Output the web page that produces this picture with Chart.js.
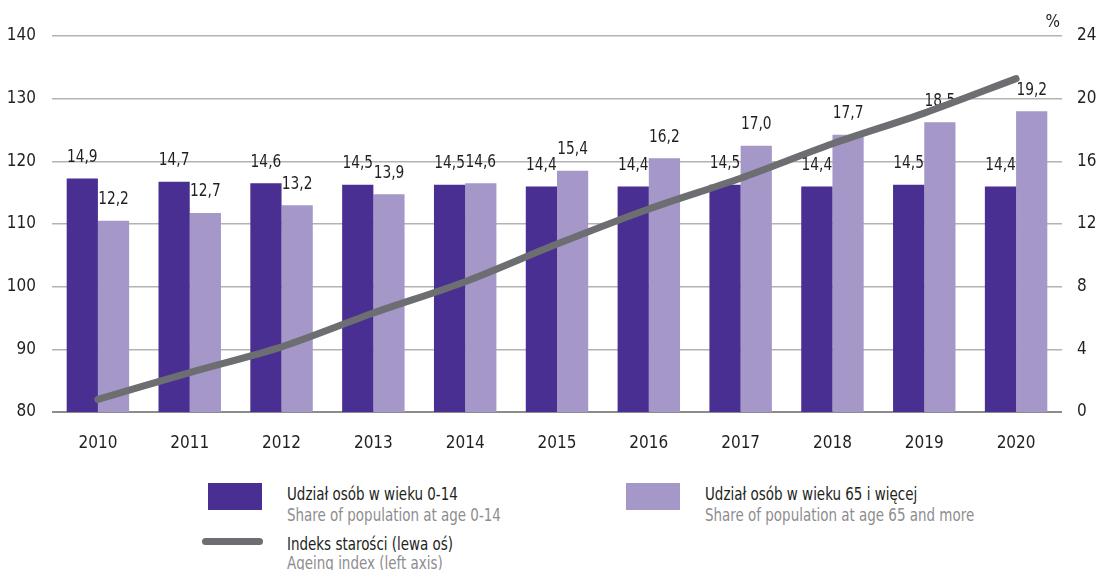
<!DOCTYPE html>
<html lang="pl">
<head>
<meta charset="utf-8">
<title>Indeks starości</title>
<script src="https://cdn.jsdelivr.net/npm/chart.js@4/dist/chart.umd.min.js"></script>
<style>
  html, body { margin: 0; padding: 0; background: #ffffff; }
  body { width: 1105px; height: 570px; position: relative; overflow: hidden;
         font-family: 'Liberation Sans Narrow', 'DejaVu Sans Condensed', 'Roboto Condensed', sans-serif; }
  #wrap { position: absolute; left: 0; top: 0; width: 1105px; height: 470px; }
  .lg { position: absolute; font-size: 17px; line-height: 21px; color: #231f20; white-space: nowrap;
        transform: scaleX(0.88); transform-origin: 0 0; }
  .lg .sub { color: #8d8d90; }
  .sw { position: absolute; }
</style>
</head>
<body>
<div id="wrap"><canvas id="c" width="1105" height="470"></canvas></div>

<div class="sw" style="left:208px;top:483px;width:54px;height:27px;background:#482f91;"></div>
<div class="lg" style="left:287px;top:484px;">Udział osób w wieku 0-14<br><span class="sub">Share of population at age 0-14</span></div>

<div class="sw" style="left:626px;top:483px;width:54px;height:27px;background:#a597c8;"></div>
<div class="lg" style="left:705px;top:484px;">Udział osób w wieku 65 i więcej<br><span class="sub">Share of population at age 65 and more</span></div>

<div class="sw" style="left:202px;top:538px;width:61px;height:7px;border-radius:4px;background:#6d6e71;"></div>
<div class="lg" style="left:287px;top:535px;line-height:19px;">Indeks starości (lewa oś)<br><span class="sub">Ageing index (left axis)</span></div>

<script>
const years = ['2010','2011','2012','2013','2014','2015','2016','2017','2018','2019','2020'];
const share0to14 = [14.9, 14.7, 14.6, 14.5, 14.5, 14.4, 14.4, 14.5, 14.4, 14.5, 14.4];
const share65plus = [12.2, 12.7, 13.2, 13.9, 14.6, 15.4, 16.2, 17.0, 17.7, 18.5, 19.2];
const ageingIndex = [82.0, 86.3, 90.4, 95.8, 100.8, 106.8, 112.4, 117.3, 122.8, 127.7, 133.2];

const FONT = "'Liberation Sans Narrow', 'DejaVu Sans Condensed', 'Roboto Condensed', sans-serif";
const TEXT = '#231f20';

const fmt = v => v.toFixed(1).replace('.', ',');

// value labels above the bars, drawn before the line so it passes over them
const barLabels = {
  id: 'barLabels',
  afterDatasetDraw(chart, args) {
    const ds = chart.data.datasets[args.index];
    if (ds.type === 'line') return;
    const ctx = chart.ctx;
    ctx.save();
    ctx.font = '17px ' + FONT;
    ctx.fillStyle = TEXT;
    ctx.textAlign = 'center';
    ctx.textBaseline = 'middle';
    args.meta.data.forEach((el, i) => {
      ctx.save();
      ctx.translate(el.x, el.y - 21);
      ctx.scale(0.9, 1);
      ctx.fillText(fmt(ds.data[i]), 0, 0);
      ctx.restore();
    });
    ctx.restore();
  },
  afterDraw(chart) {
    const ctx = chart.ctx;
    const a = chart.chartArea;
    ctx.save();
    ctx.font = '17px ' + FONT;
    ctx.fillStyle = TEXT;
    ctx.textAlign = 'right';
    ctx.textBaseline = 'middle';
    ctx.fillText('%', a.right - 2, a.top - 13);
    ctx.restore();
  }
};

new Chart(document.getElementById('c'), {
  type: 'bar',
  data: {
    labels: years,
    datasets: [
      {
        type: 'line',
        label: 'Indeks starości (lewa oś)',
        data: ageingIndex,
        yAxisID: 'y',
        borderColor: '#6d6e71',
        borderWidth: 7,
        borderCapStyle: 'round',
        borderJoinStyle: 'round',
        pointRadius: 0,
        tension: 0.3,
        fill: false,
        order: 0
      },
      {
        label: 'Udział osób w wieku 0-14',
        data: share0to14,
        yAxisID: 'y2',
        backgroundColor: '#482f91',
        categoryPercentage: 0.68,
        barPercentage: 1.0,
        order: 1
      },
      {
        label: 'Udział osób w wieku 65 i więcej',
        data: share65plus,
        yAxisID: 'y2',
        backgroundColor: '#a597c8',
        categoryPercentage: 0.68,
        barPercentage: 1.0,
        order: 2
      }
    ]
  },
  options: {
    responsive: false,
    animation: false,
    devicePixelRatio: 1,
    layout: { padding: { top: 36, left: 0, right: 0, bottom: 0 } },
    plugins: { legend: { display: false }, tooltip: { enabled: false } },
    scales: {
      x: {
        grid: { display: false, drawTicks: false },
        border: { display: false },
        ticks: { color: TEXT, font: { family: FONT, size: 17 }, padding: 21, maxRotation: 0 },
        afterFit(s) { s.height = 58; }
      },
      y: {
        position: 'left',
        min: 80, max: 140,
        ticks: { stepSize: 10, color: TEXT, font: { family: FONT, size: 17 }, padding: 16 },
        grid: {
          drawTicks: false,
          color: c => (c.tick && c.tick.value === 80) ? '#8c8c8c' : '#b3b3b3',
          lineWidth: c => (c.tick && c.tick.value === 80) ? 2 : 1.5
        },
        border: { display: false },
        afterFit(s) { s.width = 52; }
      },
      y2: {
        position: 'right',
        min: 0, max: 24,
        ticks: { stepSize: 4, color: TEXT, font: { family: FONT, size: 17 }, padding: 15 },
        grid: { display: false, drawTicks: false },
        border: { display: false },
        afterFit(s) { s.width = 43; }
      }
    }
  },
  plugins: [barLabels]
});
</script>
</body>
</html>
